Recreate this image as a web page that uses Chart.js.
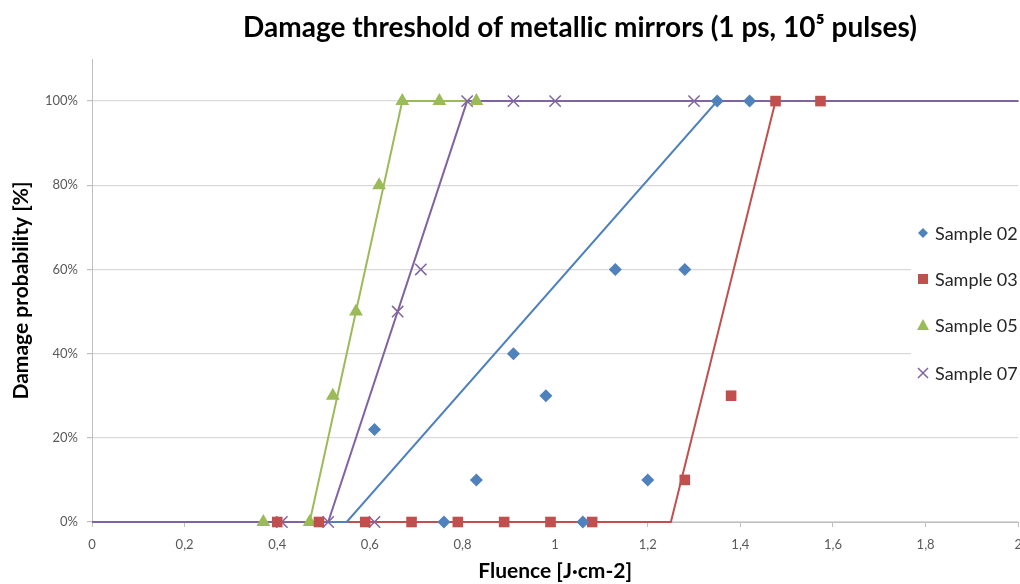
<!DOCTYPE html>
<html>
<head>
<meta charset="utf-8">
<title>Damage threshold of metallic mirrors</title>
<script src="https://cdn.jsdelivr.net/npm/chart.js@4.4.1/dist/chart.umd.min.js"></script>
<style>
  html, body { margin: 0; padding: 0; background: #fff; overflow: hidden; }
  #wrap { width: 1020px; height: 584px; overflow: hidden; }
  canvas { display: block; }
</style>
</head>
<body>
<div id="wrap">
  <!-- a bit wider than the page: the last x label is cut at the edge, as in the original -->
  <canvas id="damageChart" width="1032" height="584"></canvas>
</div>
<script>
const chartTitle = "Damage threshold of metallic mirrors (1 ps, 10\u2075 pulses)";
const xTitle = "Fluence [J\u00b7cm-2]";
const yTitle = "Damage probability [%]";

const sampleNames = ["Sample 02", "Sample 03", "Sample 05", "Sample 07"];
const sampleColors = ["#4F81BD", "#C0504D", "#9BBB59", "#8064A2"];
const sampleMarkers = ["rectRot", "rect", "triangle", "crossRot"];

// measured points: fluence [J/cm2] and damage probability [%]
const fluence02 = [0.61, 0.76, 0.83, 0.91, 0.98, 1.06, 1.13, 1.20, 1.28, 1.35, 1.42];
const prob02 = [22, 0, 10, 40, 30, 0, 60, 10, 60, 100, 100];
const fluence03 = [0.40, 0.49, 0.59, 0.69, 0.79, 0.89, 0.99, 1.08, 1.28, 1.38, 1.476, 1.573];
const prob03 = [0, 0, 0, 0, 0, 0, 0, 0, 10, 30, 100, 100];
const fluence05 = [0.37, 0.47, 0.52, 0.57, 0.62, 0.67, 0.75, 0.83];
const prob05 = [0, 0, 30, 50, 80, 100, 100, 100];
const fluence07 = [0.41, 0.51, 0.61, 0.66, 0.71, 0.81, 0.91, 1.00, 1.30];
const prob07 = [0, 0, 0, 50, 60, 100, 100, 100, 100];

// threshold fit lines (break points)
const fitX02 = [0, 0.55, 1.35, 2];
const fitX03 = [0.55, 1.25, 1.476, 2];
const fitX05 = [0, 0.47, 0.67, 2];
const fitX07 = [0, 0.51, 0.81, 2];
const fitY = [0, 0, 100, 100];

const xTickValues = [0, 0.2, 0.4, 0.6, 0.8, 1, 1.2, 1.4, 1.6, 1.8, 2];
const yTickValues = [0, 20, 40, 60, 80, 100];

const pointSets = [[fluence02, prob02], [fluence03, prob03], [fluence05, prob05], [fluence07, prob07]];
const fitSets = [fitX02, fitX03, fitX05, fitX07];
const markerSizes = [6.5, 7.5, 8, 8];

function toPoints(xs, ys) {
  return xs.map((x, i) => ({ x: x, y: ys[i] }));
}

const datasets = [];
pointSets.forEach(([xs, ys], i) => {
  datasets.push({
    label: sampleNames[i],
    data: toPoints(xs, ys),
    showLine: false,
    clip: false,
    pointStyle: sampleMarkers[i],
    pointRadius: markerSizes[i],
    backgroundColor: sampleColors[i],
    borderColor: sampleColors[i],
    pointBorderWidth: sampleMarkers[i] === "crossRot" ? 1.5 : 0,
    order: i
  });
});
// purple line on top of the other fit lines
const lineOrder = [6, 7, 5, 4];
fitSets.forEach((xs, i) => {
  datasets.push({
    label: sampleNames[i] + " fit",
    data: toPoints(xs, fitY),
    showLine: true,
    clip: false,
    pointRadius: 0,
    borderColor: sampleColors[i],
    borderWidth: 2,
    fill: false,
    order: lineOrder[i]
  });
});

const FONT = "Lato, 'Open Sans', sans-serif";

const titleAndLegend = {
  id: "titleAndLegend",
  afterDraw(chart) {
    const ctx = chart.ctx;
    ctx.save();
    ctx.fillStyle = "#000";
    ctx.font = "bold 28px " + FONT;
    ctx.textAlign = "center";
    ctx.textBaseline = "middle";
    ctx.fillText(chartTitle, 580, 28);

    // legend box over the right part of the plot
    ctx.fillStyle = "#fff";
    ctx.fillRect(911, 205, 121, 195);
    const rows = [233, 279, 325, 373];
    ctx.font = "18px " + FONT;
    ctx.textAlign = "left";
    sampleNames.forEach((name, i) => {
      const y = rows[i];
      const x = 923;
      ctx.fillStyle = sampleColors[i];
      ctx.strokeStyle = sampleColors[i];
      ctx.lineWidth = 1.5;
      ctx.beginPath();
      if (sampleMarkers[i] === "rectRot") {
        ctx.moveTo(x - 5, y); ctx.lineTo(x, y - 5); ctx.lineTo(x + 5, y); ctx.lineTo(x, y + 5);
        ctx.closePath(); ctx.fill();
      } else if (sampleMarkers[i] === "rect") {
        ctx.rect(x - 5, y - 5, 10, 10); ctx.fill();
      } else if (sampleMarkers[i] === "triangle") {
        ctx.moveTo(x, y - 6); ctx.lineTo(x + 6, y + 5); ctx.lineTo(x - 6, y + 5);
        ctx.closePath(); ctx.fill();
      } else {
        ctx.moveTo(x - 5, y - 5); ctx.lineTo(x + 5, y + 5);
        ctx.moveTo(x + 5, y - 5); ctx.lineTo(x - 5, y + 5);
        ctx.stroke();
      }
      ctx.fillStyle = "#262626";
      ctx.fillText(name, 935, y + 1);
    });
    ctx.restore();
  }
};

new Chart(document.getElementById("damageChart"), {
  type: "scatter",
  data: { datasets: datasets },
  options: {
    responsive: false,
    animation: false,
    layout: { padding: { top: 59, right: 0, bottom: 0, left: 0 } },
    plugins: {
      legend: { display: false },
      title: { display: false },
      tooltip: { enabled: false }
    },
    scales: {
      x: {
        type: "linear",
        min: 0,
        max: 2,
        afterBuildTicks(scale) {
          scale.ticks = xTickValues.map(v => ({ value: v }));
        },
        afterFit(scale) {
          scale.height = 62;
        },
        grid: { drawOnChartArea: false, drawTicks: true, tickLength: 5, color: "#BFBFBF" },
        border: { color: "#BFBFBF", width: 1 },
        ticks: {
          padding: 10,
          color: "#595959",
          font: { family: FONT, size: 13 },
          maxRotation: 0,
          autoSkip: false,
          callback: v => String(Math.round(v * 10) / 10).replace(".", ",")
        },
        title: {
          display: true,
          text: xTitle,
          color: "#000",
          font: { family: FONT, size: 21, weight: "bold" },
          padding: { top: 0, bottom: 0 }
        }
      },
      y: {
        type: "linear",
        min: 0,
        max: 110,
        afterBuildTicks(scale) {
          scale.ticks = yTickValues.map(v => ({ value: v }));
        },
        afterFit(scale) {
          scale.width = 92;
        },
        grid: { color: "#D9D9D9", lineWidth: 1.2, tickLength: 5, tickColor: "#BFBFBF" },
        border: { color: "#BFBFBF", width: 1 },
        ticks: {
          padding: 9,
          color: "#595959",
          font: { family: FONT, size: 13 },
          callback: v => v + "%"
        },
        title: {
          display: true,
          text: yTitle,
          color: "#000",
          font: { family: FONT, size: 21, weight: "bold" },
          padding: { top: 9, bottom: 0 }
        }
      }
    }
  },
  plugins: [titleAndLegend]
});
</script>
</body>
</html>
